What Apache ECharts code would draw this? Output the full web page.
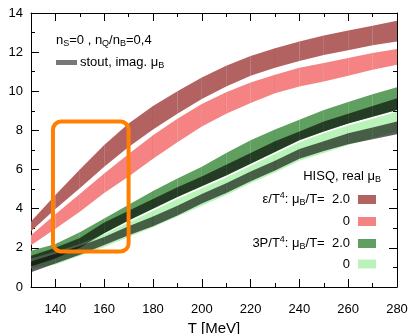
<!DOCTYPE html>
<html>
<head>
<meta charset="utf-8">
<script src="https://cdn.jsdelivr.net/npm/echarts@6/dist/echarts.min.js"></script>
<style>
  html, body { margin: 0; padding: 0; background: #fff; }
  #chart { width: 410px; height: 334px; }
</style>
</head>
<body>
<div id="chart"></div>
<script>
// temperature grid (MeV)
var temps = [130, 140, 150, 160, 170, 180, 190, 200, 210, 220, 230, 240, 250, 260, 270, 280];

// eps/T^4, muB/T = 2.0 (HISQ)
var epsMu2Lo = [2.85, 3.98, 5.05, 6.15, 7.15, 8.05, 8.85, 9.6, 10.25, 10.8, 11.2, 11.55, 11.85, 12.1, 12.35, 12.55];
var epsMu2Hi = [3.35, 4.70, 6.00, 7.25, 8.35, 9.25, 10.0, 10.7, 11.3, 11.8, 12.2, 12.55, 12.85, 13.1, 13.35, 13.6];
// eps/T^4, muB/T = 0
var epsMu0Lo = [2.13, 2.98, 3.85, 4.8, 5.65, 6.55, 7.4, 8.2, 8.85, 9.4, 9.9, 10.25, 10.5, 10.8, 11.1, 11.36];
var epsMu0Hi = [2.64, 3.72, 4.75, 5.8, 6.8, 7.75, 8.6, 9.35, 9.95, 10.45, 10.85, 11.2, 11.45, 11.7, 11.95, 12.16];
// 3P/T^4, muB/T = 2.0
var presMu2Lo = [1.05, 1.45, 2.0, 2.75, 3.4, 4.0, 4.6, 5.15, 5.7, 6.3, 6.9, 7.5, 7.95, 8.35, 8.7, 9.05];
var presMu2Hi = [1.85, 2.2, 2.8, 3.5, 4.2, 4.9, 5.55, 6.15, 6.85, 7.5, 8.05, 8.55, 9.05, 9.45, 9.85, 10.2];
// 3P/T^4, muB/T = 0
var presMu0Lo = [0.95, 1.15, 1.6, 2.05, 2.55, 3.05, 3.6, 4.15, 4.7, 5.3, 5.85, 6.45, 6.85, 7.25, 7.6, 7.95];
var presMu0Hi = [1.45, 1.8, 2.2, 2.7, 3.3, 3.9, 4.5, 5.05, 5.6, 6.2, 6.8, 7.4, 7.85, 8.25, 8.6, 8.95];
// stout, imaginary muB (two bands)
var stoutMu2Lo = [1.05, 1.45, 2.0, 2.75, 3.4, 4.0, 4.6, 5.15, 5.7, 6.3, 6.9, 7.5, 7.95, 8.35, 8.7, 9.05];
var stoutMu2Hi = [1.6, 2.0, 2.5, 3.3, 3.9, 4.5, 5.1, 5.65, 6.25, 6.85, 7.45, 7.95, 8.45, 8.85, 9.25, 9.65];
var stoutMu0Lo = [0.75, 1.2, 1.65, 2.15, 2.65, 3.1, 3.65, 4.27, 4.8, 5.4, 5.95, 6.55, 6.95, 7.3, 7.55, 7.8];
var stoutMu0Hi = [1.3, 1.7, 2.1, 2.55, 3.1, 3.6, 4.15, 4.75, 5.3, 5.9, 6.45, 7.05, 7.45, 7.85, 8.15, 8.45];

var tempTicks = [140, 160, 180, 200, 220, 240, 260, 280];
var tempMinorTicks = [150, 170, 190, 210, 230, 250, 270];

// highlighted region
var boxT = [139, 170];
var boxY = [1.82, 8.45];

var FONT = "'Liberation Sans', Arial, Helvetica, sans-serif";
var colEps2 = '#b36262';
var colEps0 = '#f58383';
var colPres2 = '#5f9f5f';
var colPres0 = '#b9f3b9';
var colStout = 'rgba(0,0,0,0.62)';

var chart = echarts.init(document.getElementById('chart'));

function band(lo, hi, color, z) {
  return {
    type: 'custom',
    z: z,
    silent: true,
    clip: true,
    data: temps.map(function (t, i) { return [t, lo[i], hi[i]]; }),
    encode: { x: 0, y: [1, 2] },
    renderItem: function (params, api) {
      var i = params.dataIndex;
      if (i >= temps.length - 1) return null;
      var a = api.coord([temps[i], lo[i]]);
      var b = api.coord([temps[i], hi[i]]);
      var c = api.coord([temps[i + 1], hi[i + 1]]);
      var d = api.coord([temps[i + 1], lo[i + 1]]);
      var kids = [{ type: 'polygon', shape: { points: [a, b, c, d] }, style: { fill: color } }];
      if (i < temps.length - 2) {
        kids.push({ type: 'line', shape: { x1: c[0], y1: c[1], x2: d[0], y2: d[1] },
          style: { stroke: 'rgba(0,0,0,0.08)', lineWidth: 1 } });
      }
      return { type: 'group', children: kids };
    }
  };
}

var rich = {
  n: { fontSize: 13, fontFamily: FONT, fill: '#000', color: '#000', lineHeight: 16 },
  sub: { fontSize: 9, fontFamily: FONT, fill: '#000', color: '#000', lineHeight: 9, verticalAlign: 'bottom' },
  sup: { fontSize: 9, fontFamily: FONT, fill: '#000', color: '#000', lineHeight: 9, verticalAlign: 'top' }
};

function txt(x, y, s, align) {
  return {
    type: 'text', x: x, y: y, z: 50,
    style: { text: s, rich: rich, align: align, textAlign: align,
      verticalAlign: 'middle', textVerticalAlign: 'middle', font: '13px ' + FONT, fill: '#000' }
  };
}

var legendRows = [
  { s: '{n|ε/T}{sup|4}{n|: μ}{sub|B}{n|/T=  2.0}', c: colEps2, y: 199.5 },
  { s: '{n|0}', c: colEps0, y: 221.5 },
  { s: '{n|3P/T}{sup|4}{n|: μ}{sub|B}{n|/T=  2.0}', c: colPres2, y: 243.5 },
  { s: '{n|0}', c: colPres0, y: 264 }
];

var graphics = [
  txt(56, 40, '{n|n}{sub|S}{n|=0 , n}{sub|Q}{n|/n}{sub|B}{n|=0,4}', 'left'),
  { type: 'rect', z: 50, shape: { x: 56, y: 60, width: 21, height: 5 }, style: { fill: '#777' } },
  txt(80, 62, '{n|stout, imag. μ}{sub|B}', 'left'),
  txt(381, 176, '{n|HISQ, real μ}{sub|B}', 'right')
];
legendRows.forEach(function (r) {
  graphics.push(txt(350, r.y, r.s, 'right'));
  graphics.push({ type: 'rect', z: 50, shape: { x: 358, y: r.y - 4.5, width: 18, height: 9 }, style: { fill: r.c } });
});

function xAxisDef(pos, ticks, len, main) {
  return {
    type: 'value', min: 130, max: 280, position: pos,
    axisLine: { show: main, onZero: false, lineStyle: { color: '#000', width: 1 } },
    axisTick: { show: true, inside: true, length: len, customValues: ticks, lineStyle: { color: '#000', width: 1 } },
    axisLabel: { show: main && pos === 'bottom', customValues: ticks, fontSize: 13, color: '#000', margin: 16, fontFamily: FONT },
    splitLine: { show: false },
    name: (main && pos === 'bottom') ? 'T [MeV]' : '',
    nameLocation: 'middle', nameGap: 31,
    nameTextStyle: { fontSize: 15, color: '#000', fontFamily: FONT }
  };
}

function yAxisDef(pos) {
  return {
    type: 'value', min: 0, max: 14, interval: 2, position: pos,
    axisLine: { show: true, onZero: false, lineStyle: { color: '#000', width: 1 } },
    axisTick: { show: true, inside: true, length: 8, lineStyle: { color: '#000' } },
    minorTick: { show: true, splitNumber: 2, length: 4, lineStyle: { color: '#000' } },
    axisLabel: { show: pos === 'left', fontSize: 13, color: '#000', margin: 8, fontFamily: FONT },
    splitLine: { show: false }
  };
}

chart.setOption({
  animation: false,
  backgroundColor: '#fff',
  grid: { left: 31, right: 13, top: 13, bottom: 47, containLabel: false, outerBoundsMode: 'none' },
  xAxis: [
    xAxisDef('bottom', tempTicks, 8, true),
    xAxisDef('bottom', tempMinorTicks, 4, false),
    xAxisDef('top', tempTicks, 8, true),
    xAxisDef('top', tempMinorTicks, 4, false)
  ],
  yAxis: [yAxisDef('left'), yAxisDef('right')],
  graphic: graphics,
  series: [
    band(epsMu2Lo, epsMu2Hi, colEps2, 2),
    band(epsMu0Lo, epsMu0Hi, colEps0, 2),
    band(presMu2Lo, presMu2Hi, colPres2, 3),
    band(presMu0Lo, presMu0Hi, colPres0, 4),
    band(stoutMu2Lo, stoutMu2Hi, colStout, 5),
    band(stoutMu0Lo, stoutMu0Hi, colStout, 5),
    {
      type: 'custom', z: 10, silent: true,
      data: [[boxT[0], boxY[0], boxT[1], boxY[1]]],
      encode: { x: [0, 2], y: [1, 3] },
      renderItem: function (params, api) {
        var p0 = api.coord([api.value(0), api.value(3)]);
        var p1 = api.coord([api.value(2), api.value(1)]);
        return {
          type: 'rect',
          shape: { x: p0[0], y: p0[1], width: p1[0] - p0[0], height: p1[1] - p0[1], r: 8 },
          style: { fill: 'none', stroke: '#ff8000', lineWidth: 4 }
        };
      }
    }
  ]
});
</script>
</body>
</html>
